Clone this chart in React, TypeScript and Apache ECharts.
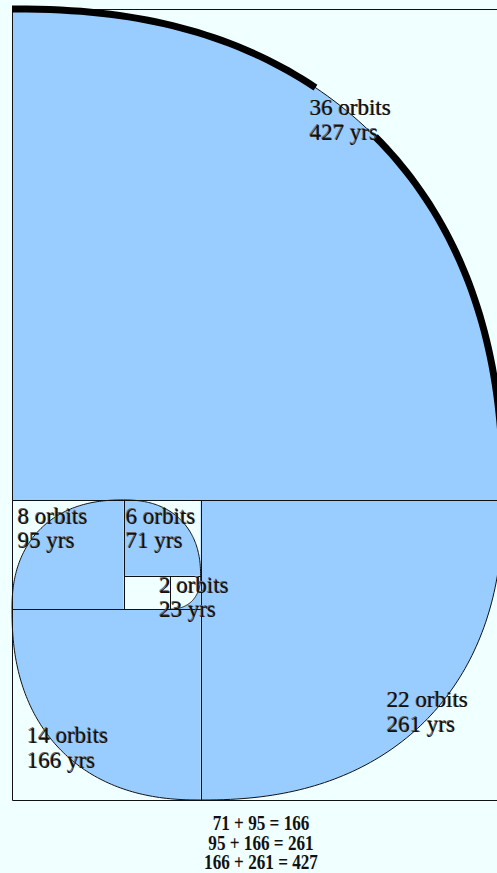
import React, { useEffect, useRef } from "react";
import * as echarts from "echarts";

// ---- data (years) ----
const squareYears = [427, 261, 166, 95, 71, 23];
const squareOrbits = [36, 22, 14, 8, 6, 2];
// box edges, in years (x to the right, y downward)
const boxX = [0, 164, 0, 0, 97, 137];
const boxY = [0, 427, 522, 427, 427, 493];
const boxW = [427, 263, 164, 97, 67, 27];
const boxH = [427, 261, 166, 95, 66, 29];
// corner of each box that is the centre of its arc
const arcCorner = ["bl", "tl", "tr", "br", "bl", "tl"];
const fillOutside = [0, 0, 0, 0, 0, 1];
// where each label starts (years)
const labelX = [259, 326, 13, 5, 99, 128];
const labelY = [86, 601, 632, 441, 441, 501];
// parts of each arc (0 = start, 1 = end) drawn with the heavy pen
const heavySpans: number[][][] = [[[0, 0.39], [0.5, 1]], [], [], [], [], []];
// the sums under the picture
const sumA = [71, 95, 166];
const sumB = [95, 166, 261];
const sumC = [166, 261, 427];

const BLUE = "#99CCFF";
const BG = "#F0FFFF";
const LINE = "#111111";
const EXP = 2.3;

function arcGeom(i: number, w: number, h: number, x: number, y: number) {
  const c = arcCorner[i];
  const cx = c[1] === "l" ? x : x + w;
  const cy = c[0] === "t" ? y : y + h;
  const sx = c[1] === "l" ? 1 : -1;
  const sy = c[0] === "t" ? 1 : -1;
  return { cx, cy, sx, sy };
}

function arcPoints(api: any, i: number, x: number, y: number, w: number, h: number, t0: number, t1: number) {
  const { cx, cy, sx, sy } = arcGeom(i, w, h, x, y);
  const steps = Math.max(2, Math.round(90 * (t1 - t0)));
  const pts: number[][] = [];
  for (let k = 0; k <= steps; k++) {
    const t = t0 + ((t1 - t0) * k) / steps;
    const th = ((1 - t) * Math.PI) / 2;
    const co = Math.max(0, Math.cos(th));
    const si = Math.max(0, Math.sin(th));
    const dx = w * Math.pow(co, 2 / EXP);
    const dy = h * Math.pow(si, 2 / EXP);
    pts.push(api.coord([cx + sx * dx, cy + sy * dy]));
  }
  return pts;
}

const boxData = boxX.map((x, i) => [x, boxY[i], boxW[i], boxH[i]]);
const labelData = labelX.map((x, i) => [x, labelY[i]]);

export default function App() {
  const ref = useRef<HTMLDivElement>(null);
  useEffect(() => {
    if (!ref.current) return;
    const chart = echarts.init(ref.current, null, { renderer: "svg" });
    const font = '23px "Liberation Serif"';
    chart.setOption({
      animation: false,
      backgroundColor: BG,
      grid: { left: 12, top: 9, width: 491, height: 791, containLabel: false, outerBoundsMode: "none" },
      xAxis: { type: "value", min: 0, max: 427, show: false },
      yAxis: { type: "value", min: 0, max: 688, inverse: true, show: false },
      series: [
        {
          type: "custom",
          coordinateSystem: "cartesian2d",
          silent: true,
          z: 1,
          data: boxData,
          renderItem: (params: any, api: any) => {
            const i = params.dataIndex;
            const x = api.value(0), y = api.value(1), w = api.value(2), h = api.value(3);
            const { cx, cy, sx, sy } = arcGeom(i, w, h, x, y);
            const arc = arcPoints(api, i, x, y, w, h, 0, 1);
            const pts = fillOutside[i]
              ? [...arc, api.coord([cx + sx * w, cy + sy * h])]
              : [api.coord([cx, cy]), ...arc];
            return { type: "polygon", shape: { points: pts }, style: { fill: BLUE } };
          },
        },
        {
          type: "custom",
          coordinateSystem: "cartesian2d",
          silent: true,
          z: 2,
          data: boxData,
          renderItem: (params: any, api: any) => {
            const i = params.dataIndex;
            const x = api.value(0), y = api.value(1), w = api.value(2), h = api.value(3);
            const a = api.coord([x, y]);
            const b = api.coord([x + w, y + h]);
            const x0 = Math.round(a[0]) + 0.5, y0 = Math.round(a[1]) + 0.5;
            const x1 = Math.round(b[0]) + 0.5, y1 = Math.round(b[1]) + 0.5;
            const children: any[] = [
              { type: "rect", shape: { x: x0, y: y0, width: x1 - x0, height: y1 - y0 }, style: { fill: "none", stroke: LINE, lineWidth: 1 } },
              { type: "polyline", shape: { points: arcPoints(api, i, x, y, w, h, 0, 1) }, style: { fill: "none", stroke: LINE, lineWidth: 1 } },
            ];
            for (const [t0, t1] of heavySpans[i]) {
              children.push({
                type: "polyline",
                shape: { points: arcPoints(api, i, x, y, w, h, t0, t1) },
                style: { fill: "none", stroke: "#000", lineWidth: 7, lineCap: "butt", lineJoin: "round" },
              });
            }
            return { type: "group", children };
          },
        },
        {
          type: "custom",
          coordinateSystem: "cartesian2d",
          silent: true,
          z: 3,
          data: labelData,
          renderItem: (params: any, api: any) => {
            const i = params.dataIndex;
            const p = api.coord([api.value(0), api.value(1)]);
            const lines = [`${squareOrbits[i]} orbits`, `${squareYears[i]} yrs`];
            const children: any[] = [];
            lines.forEach((t, j) => {
              const yy = p[1] + j * 24.5;
              children.push({
                type: "text", x: p[0] - 0.8, y: yy - 0.8,
                style: { text: t, font, fill: "#666", textAlign: "left", textVerticalAlign: "middle", align: "left", verticalAlign: "middle" },
              });
              children.push({
                type: "text", x: p[0], y: yy,
                style: { text: t, font, fill: "#111", textAlign: "left", textVerticalAlign: "middle", align: "left", verticalAlign: "middle" },
              });
            });
            return { type: "group", children };
          },
        },
      ],
      graphic: sumA.map((a, k) => ({
        type: "text",
        x: 261,
        y: 822.5 + k * 19.5,
        scaleX: 0.78,
        silent: true,
        style: {
          text: `${a} + ${sumB[k]} = ${sumC[k]}`,
          font: 'bold 22px "Liberation Serif"',
          fill: "#111",
          textAlign: "center",
          textVerticalAlign: "middle",
          align: "center",
          verticalAlign: "middle",
        },
      })),
    });
    return () => chart.dispose();
  }, []);
  return (
    <div
      ref={ref}
      style={{ position: "fixed", left: 0, top: 0, width: 497, height: 873, background: BG }}
    />
  );
}
